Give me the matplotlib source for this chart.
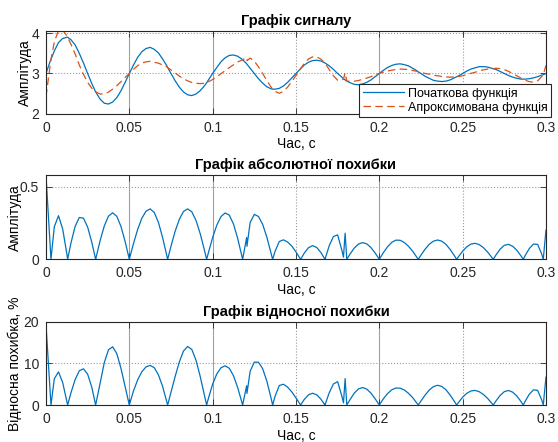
import numpy as np
import matplotlib.pyplot as plt

plt.rcParams['font.family'] = ['Liberation Sans', 'DejaVu Sans']

# Час, с (крок 0.0025 плюс точки перетину та збоїв)
t = [0.0, 0.0025, 0.003, 0.005, 0.0075, 0.01, 0.0125, 0.013, 0.015, 0.0175,
     0.02, 0.0225, 0.025, 0.0275, 0.0298, 0.03, 0.0325, 0.035, 0.0375, 0.04,
     0.0425, 0.045, 0.0475, 0.05, 0.0525, 0.055, 0.0575, 0.06, 0.0625, 0.065,
     0.0675, 0.07, 0.0725, 0.073, 0.075, 0.0775, 0.08, 0.0825, 0.085, 0.0875,
     0.09, 0.0925, 0.095, 0.0964, 0.0975, 0.1, 0.1025, 0.105, 0.1075, 0.11,
     0.1125, 0.115, 0.1175, 0.118, 0.12, 0.1204, 0.1206, 0.1225, 0.125, 0.1275,
     0.13, 0.1325, 0.135, 0.136, 0.1375, 0.14, 0.1425, 0.145, 0.1475, 0.15,
     0.1525, 0.1528, 0.155, 0.1575, 0.16, 0.1625, 0.165, 0.1674, 0.1675, 0.17,
     0.1725, 0.175, 0.1775, 0.1785, 0.1795, 0.1805, 0.1825, 0.185, 0.1875, 0.19,
     0.1925, 0.195, 0.1975, 0.2, 0.2025, 0.205, 0.2075, 0.21, 0.2125, 0.215,
     0.2175, 0.22, 0.2225, 0.2234, 0.225, 0.2275, 0.23, 0.2325, 0.235, 0.2375,
     0.24, 0.2425, 0.245, 0.2464, 0.2475, 0.25, 0.2525, 0.255, 0.2575, 0.26,
     0.2625, 0.265, 0.2675, 0.2684, 0.27, 0.2725, 0.275, 0.2775, 0.28, 0.2825,
     0.285, 0.2864, 0.2875, 0.29, 0.2925, 0.295, 0.2975, 0.2984, 0.3]

# Початкова функція
orig = [3.00, 3.30, 3.35, 3.56, 3.77, 3.87, 3.90, 3.90, 3.84, 3.71,
        3.50, 3.26, 3.00, 2.75, 2.54, 2.53, 2.36, 2.26, 2.24, 2.29,
        2.40, 2.57, 2.78, 3.00, 3.21, 3.40, 3.54, 3.62, 3.65, 3.60,
        3.51, 3.36, 3.19, 3.15, 3.00, 2.82, 2.66, 2.54, 2.47, 2.45,
        2.49, 2.57, 2.69, 2.77, 2.84, 3.00, 3.15, 3.29, 3.39, 3.45,
        3.46, 3.43, 3.36, 3.34, 3.26, 3.24, 3.23, 3.13, 3.00, 2.87,
        2.76, 2.67, 2.62, 2.61, 2.61, 2.63, 2.69, 2.78, 2.89, 3.00,
        3.11, 3.12, 3.21, 3.28, 3.32, 3.33, 3.31, 3.26, 3.26, 3.19,
        3.10, 3.00, 2.91, 2.87, 2.84, 2.81, 2.77, 2.73, 2.72, 2.74,
        2.78, 2.84, 2.92, 3.00, 3.08, 3.15, 3.20, 3.23, 3.24, 3.22,
        3.19, 3.13, 3.07, 3.04, 3.00, 2.93, 2.88, 2.83, 2.81, 2.80,
        2.81, 2.84, 2.89, 2.92, 2.94, 3.00, 3.06, 3.11, 3.14, 3.17,
        3.17, 3.16, 3.13, 3.12, 3.10, 3.05, 3.00, 2.95, 2.91, 2.88,
        2.86, 2.86, 2.86, 2.87, 2.89, 2.92, 2.96, 2.97, 3.00]

# Апроксимована функція
approx = [2.42, 3.20, 3.35, 3.784, 4.07, 4.08, 3.939, 3.90, 3.727, 3.483,
          3.212, 2.977, 2.778, 2.633, 2.54, 2.54, 2.489, 2.49, 2.537, 2.61,
          2.696, 2.796, 2.902, 3.00, 3.102, 3.195, 3.258, 3.289, 3.303, 3.278,
          3.257, 3.211, 3.164, 3.15, 3.09, 3.013, 2.935, 2.869, 2.817, 2.777,
          2.758, 2.748, 2.757, 2.77, 2.793, 2.85, 2.915, 2.996, 3.071, 3.146,
          3.217, 3.285, 3.335, 3.34, 3.388, 3.39, 3.32, 3.383, 3.309, 3.165,
          3.001, 2.824, 2.666, 2.61, 2.554, 2.507, 2.556, 2.661, 2.799, 2.949,
          3.104, 3.12, 3.253, 3.36, 3.414, 3.411, 3.356, 3.26, 3.256, 3.095,
          2.943, 2.832, 2.846, 2.855, 3.02, 2.81, 2.807, 2.808, 2.825, 2.855,
          2.886, 2.921, 2.964, 3.00, 3.033, 3.063, 3.083, 3.098, 3.109, 3.104,
          3.10, 3.074, 3.055, 3.04, 3.029, 3.00, 2.984, 2.955, 2.943, 2.925,
          2.913, 2.908, 2.916, 2.92, 2.922, 2.944, 2.974, 3.005, 3.03, 3.069,
          3.09, 3.11, 3.116, 3.12, 3.13, 3.12, 3.096, 3.053, 3.00, 2.943,
          2.884, 2.86, 2.835, 2.796, 2.785, 2.817, 2.925, 2.97, 3.20]

x_ticks = [0, 0.05, 0.1, 0.15, 0.2, 0.25, 0.3]
x_ticklabels = ["0", "0.05", "0.1", "0.15", "0.2", "0.25", "0.3"]

t = np.array(t)
orig = np.array(orig)
approx = np.array(approx)
abs_err = np.abs(orig - approx)
rel_err = abs_err / orig * 100

blue = "#0072BD"
orange = "#D95319"

fig = plt.figure(figsize=(5.58, 4.42), dpi=100)
ax1 = fig.add_axes([0.0824, 0.7428, 0.896, 0.1878])
ax2 = fig.add_axes([0.0824, 0.4133, 0.896, 0.1907])
ax3 = fig.add_axes([0.0824, 0.0837, 0.896, 0.1885])


def style(ax):
    ax.set_xlim(0, 0.3)
    ax.set_xticks(x_ticks)
    ax.set_xticklabels(x_ticklabels)
    ax.tick_params(direction="in", top=True, right=True, length=4,
                   width=0.6, labelsize=10, colors="#262626", pad=5)
    ax.grid(True, linestyle=":", color="#9a9a9a", linewidth=0.8)
    # вертикальні лінії сітки на 0.05, 0.1, 0.2 виглядають темнішими
    for i, gl in enumerate(ax.get_xgridlines()):
        if i in (1, 2, 4):
            gl.set_color("#555555")
            gl.set_linestyle((0, (1, 0.8)))
    for s in ax.spines.values():
        s.set_linewidth(0.8)
        s.set_color("#262626")
    ax.set_xlabel("Час, с", fontsize=10, labelpad=2)


# Графік сигналу
ax1.plot(t, orig, color=blue, lw=0.9, label="Початкова функція")
ax1.plot(t, approx, color=orange, lw=0.9, dashes=(6, 3.5),
         label="Апроксимована функція")
style(ax1)
ax1.set_ylim(2, 4.065)
ax1.set_yticks([2, 3, 4])
ax1.set_title("Графік сигналу", fontsize=10.5, fontweight="bold", pad=4)
ax1.set_ylabel("Амплітуда", fontsize=10)
ax1.yaxis.set_label_coords(-0.028, 0.5)
leg = ax1.legend(loc="upper left", bbox_to_anchor=(359 / 558, 1 - 84 / 442),
                 bbox_transform=fig.transFigure, fontsize=9, frameon=True,
                 fancybox=False, edgecolor="#262626", framealpha=1,
                 handlelength=3.3, handletextpad=0.3, borderpad=0.3,
                 labelspacing=0.15, borderaxespad=0)
leg.get_frame().set_linewidth(0.8)

# Графік абсолютної похибки
ax2.plot(t, abs_err, color=blue, lw=0.9)
style(ax2)
ax2.set_ylim(0, 0.58)
ax2.set_yticks([0, 0.5])
ax2.set_yticklabels(["0", "0.5"])
ax2.set_title("Графік абсолютної похибки", fontsize=10.5, fontweight="bold", pad=4)
ax2.set_ylabel("Амплітуда", fontsize=10)
ax2.yaxis.set_label_coords(-0.048, 0.5)

# Графік відносної похибки
ax3.plot(t, rel_err, color=blue, lw=0.9)
style(ax3)
ax3.set_ylim(0, 20)
ax3.set_yticks([0, 10, 20])
ax3.set_title("Графік відносної похибки", fontsize=10.5, fontweight="bold", pad=4)
ax3.set_ylabel("Відносна похибка, %", fontsize=10)
ax3.yaxis.set_label_coords(-0.048, 0.5)

fig.savefig("out.png", dpi=100)
